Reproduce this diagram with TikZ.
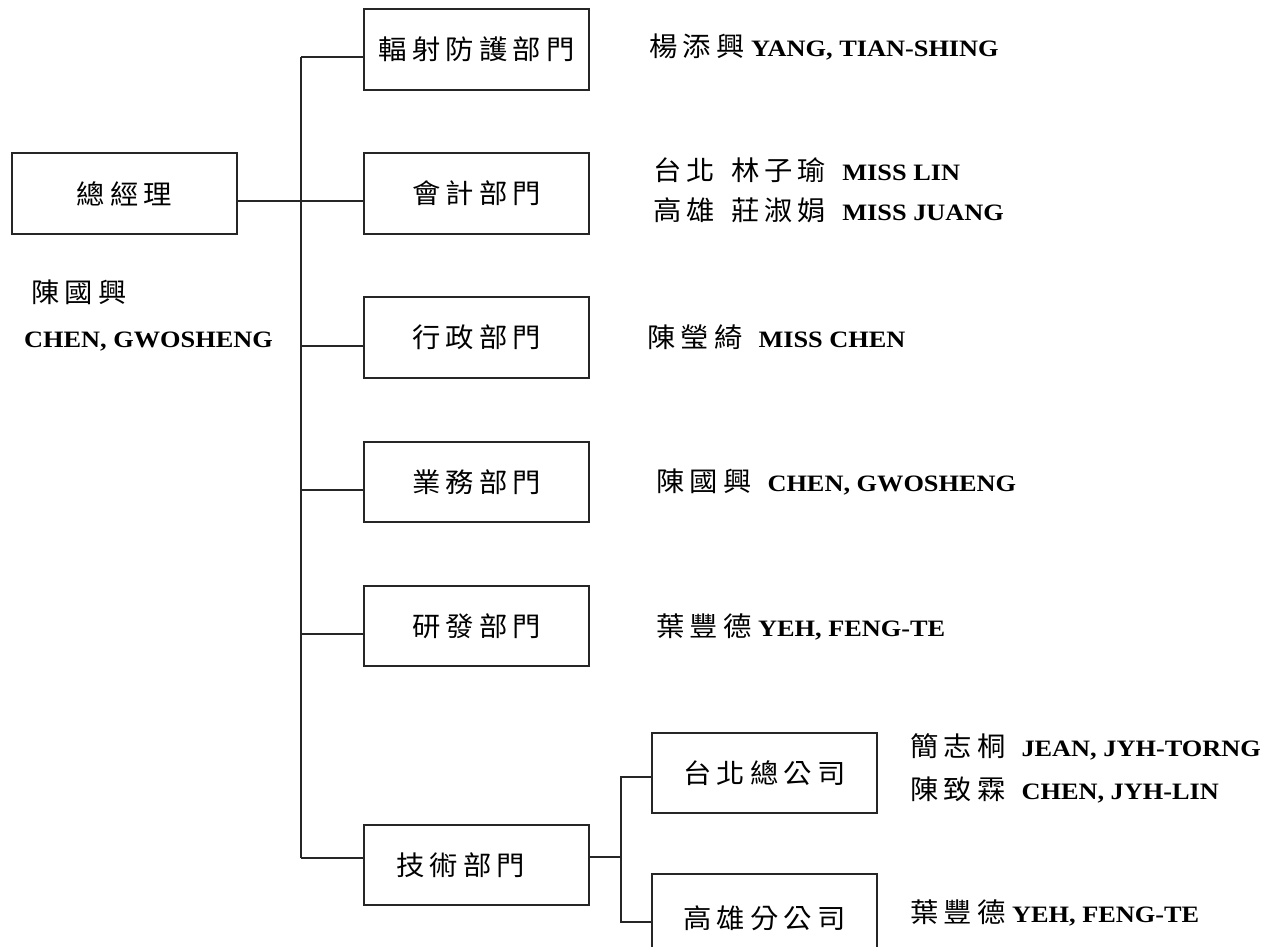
\documentclass[tikz,border=0pt]{standalone}
\usepackage{fontspec}
\setmainfont{Liberation Serif}
\newfontfamily\latf[FakeStretch=1.12]{Liberation Serif}
\newfontfamily\cjkf[FakeStretch=1.05,LetterSpace=19]{Noto Sans CJK TC}
\newcommand\zh[1]{{\cjkf\mdseries\fontsize{27}{32}\selectfont #1}}
\newcommand\wgap{\hspace{16pt}}
\tikzset{
  orgbox/.style={draw=black!85, line width=1.5pt, minimum width=225pt, minimum height=81pt,
    inner sep=0pt, font=\cjkf\fontsize{27}{32}\selectfont},
  conn/.style={draw=black!85, line width=1.5pt},
  lbl/.style={anchor=west, inner sep=0pt, font=\latf\bfseries\fontsize{23.5}{28}\selectfont}
}
\begin{document}
\begin{tikzpicture}[x=1pt,y=-1pt]
\useasboundingbox (0,0) rectangle (1279,947);
\clip (0,0) rectangle (1279,947);
\fill[white] (0,0) rectangle (1279,947);

% boxes
\node[orgbox] (gm)   at (124.5,193.5) {總經理};
\node[orgbox] (rad)  at (476.5,49.5)  {輻射防護部門};
\node[orgbox] (acc)  at (476.5,193.5) {會計部門};
\node[orgbox] (adm)  at (476.5,337.5) {行政部門};
\node[orgbox, minimum height=80pt] (biz)  at (476.5,482) {業務部門};
\node[orgbox, minimum height=80pt] (rd)   at (476.5,626) {研發部門};
\node[orgbox, minimum height=80pt] (tech) at (476.5,865) {技術部門\hspace*{32pt}};
\node[orgbox, minimum height=80pt] (tpe)  at (764.5,773) {台北總公司};
\node[orgbox, minimum height=88pt] (khh)  at (764.5,918) {高雄分公司};

% bus coordinates
\coordinate (j1) at (301,57);
\coordinate (j0) at (301,201);
\coordinate (j3) at (301,346);
\coordinate (j4) at (301,490);
\coordinate (j5) at (301,634);
\coordinate (j6) at (301,858);
\coordinate (s0) at (621,857);
\coordinate (s1) at (621,777);
\coordinate (s2) at (621,922);

\draw[conn] (j1) -- (j6);
\draw[conn] (j1) -- (j1 -| rad.west);
\draw[conn] (gm.east |- j0) -- (j0 -| acc.west);
\draw[conn] (j3) -- (j3 -| adm.west);
\draw[conn] (j4) -- (j4 -| biz.west);
\draw[conn] (j5) -- (j5 -| rd.west);
\draw[conn] (j6) -- (j6 -| tech.west);
\draw[conn] (tech.east |- s0) -- (s0);
\draw[conn] (s1 -| tpe.west) -- (s1) -- (s2) -- (s2 -| khh.west);

% people
\node[lbl] (gmzh) at (31,292) {\zh{陳國興}};
\node[lbl] (gmen) at (24,342) {CHEN, GWOSHENG};
\node[lbl] (radp) at (649,47) {\zh{楊添興} YANG, TIAN-SHING};
\node[lbl] (accp1) at (653,170) {\zh{台北}\wgap\zh{林子瑜}\wgap MISS LIN};
\node[lbl] (accp2) at (653,210) {\zh{高雄}\wgap\zh{莊淑娟}\wgap MISS JUANG};
\node[lbl] (admp) at (647,337) {\zh{陳瑩綺}\wgap MISS CHEN};
\node[lbl] (bizp) at (656,482) {\zh{陳國興}\wgap CHEN, GWOSHENG};
\node[lbl] (rdp)  at (656,627) {\zh{葉豐德} YEH, FENG-TE};
\node[lbl] (tpep1) at (910,747) {\zh{簡志桐}\wgap JEAN, JYH-TORNG};
\node[lbl] (tpep2) at (910,790) {\zh{陳致霖}\wgap CHEN, JYH-LIN};
\node[lbl] (khhp) at (910,913) {\zh{葉豐德} YEH, FENG-TE};
\end{tikzpicture}
\end{document}
